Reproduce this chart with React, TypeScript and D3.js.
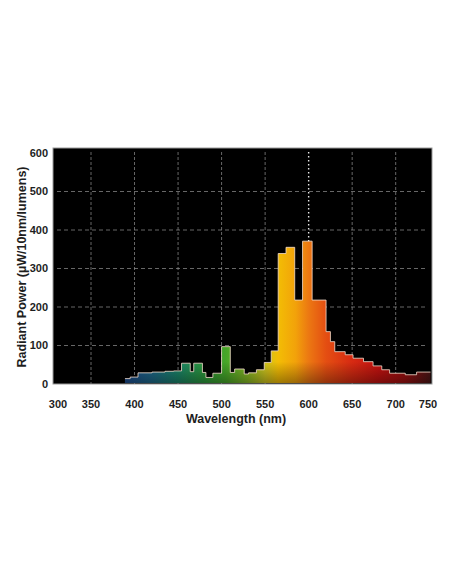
import React from 'react';
import * as d3 from 'd3';

// step starts (nm) and radiant power
const wavelengths = [389, 395, 404, 420, 435, 445, 454, 464, 468, 478, 482, 490, 500, 510, 515, 526, 531, 540, 549, 557, 565, 574, 584, 593, 604, 620, 625, 630, 642, 651, 663, 674, 684, 693, 711, 724];
const power = [14, 18, 29, 31, 33, 34, 54, 32, 54, 30, 17, 28, 97, 30, 39, 26, 29, 37, 56, 86, 339, 355, 218, 371, 218, 136, 110, 84, 76, 67, 58, 47, 37, 28, 24, 31];
const spectrumEnd = 740;

const xTicks = [300, 350, 400, 450, 500, 550, 600, 650, 700, 750];
const yTicks = [0, 100, 200, 300, 400, 500, 600];
const gridX = [350, 400, 450, 500, 550, 650, 700];
const gridY = [100, 200, 300, 400, 500];
const markerLine = 600;

// colour of the light at a given wavelength
const spectrumStops: [number, string][] = [
  [390, '#1d4c8e'],
  [420, '#1e6888'],
  [450, '#1b8468'],
  [480, '#2c983c'],
  [505, '#46a628'],
  [530, '#86b824'],
  [550, '#cdc41e'],
  [565, '#f3bd05'],
  [585, '#f2a20a'],
  [600, '#ec7812'],
  [620, '#e44e12'],
  [650, '#d72a12'],
  [680, '#c21210'],
  [710, '#9c1010'],
  [740, '#4a1616'],
];

const W = 452;
const H = 584;
const plot = { left: 53, right: 432, top: 148, bottom: 384 };

export default function App() {
  const x = d3.scaleLinear().domain([350, 700]).range([91, 395.7]);
  const y = d3.scaleLinear().domain([0, 600]).range([384, 153]);
  // the end labels of the original sit a little inside the plot edges
  const xLabel = d3.scaleLinear().domain([300, 350, 700, 750]).range([58, x(350), x(700), 428]);

  const pts = wavelengths.map((w, i) => ({ w, v: power[i] }));
  pts.push({ w: spectrumEnd, v: power[power.length - 1] });

  const area = d3.area<{ w: number; v: number }>()
    .curve(d3.curveStepAfter)
    .x(d => x(d.w))
    .y0(y(0) - 1)
    .y1(d => y(d.v));
  const line = d3.line<{ w: number; v: number }>()
    .curve(d3.curveStepAfter)
    .x(d => x(d.w))
    .y(d => y(d.v));

  const g0 = x(spectrumStops[0][0]);
  const g1 = x(spectrumStops[spectrumStops.length - 1][0]);

  const font = 'Liberation Sans, Arial, Helvetica, sans-serif';

  return (
    <svg width={W} height={H} style={{ position: 'fixed', left: 0, top: 0, background: '#fff' }}>
      <defs>
        <linearGradient id="spec" gradientUnits="userSpaceOnUse" x1={g0} x2={g1} y1={0} y2={0}>
          {spectrumStops.map(([w, c]) => (
            <stop key={w} offset={(x(w) - g0) / (g1 - g0)} stopColor={c} />
          ))}
        </linearGradient>
        <linearGradient id="shade" x1={0} x2={0} y1={0} y2={1}>
          <stop offset={0.85} stopColor="#000" stopOpacity={0} />
          <stop offset={1} stopColor="#000" stopOpacity={0.35} />
        </linearGradient>
        <clipPath id="plotClip">
          <rect x={plot.left} y={plot.top} width={plot.right - plot.left} height={plot.bottom - plot.top} />
        </clipPath>
      </defs>

      <rect x={plot.left} y={plot.top} width={plot.right - plot.left} height={plot.bottom - plot.top}
        fill="#000" stroke="#9a9a9a" strokeWidth={1} />

      <g clipPath="url(#plotClip)">
        {gridX.map(t => (
          <line key={t} x1={x(t)} x2={x(t)} y1={plot.top + 4} y2={plot.bottom}
            stroke="#8a8a8a" strokeWidth={1} strokeDasharray="3,2" opacity={0.75} />
        ))}
        {gridY.map(t => (
          <line key={t} x1={plot.left + 4} x2={plot.right - 5} y1={y(t)} y2={y(t)}
            stroke="#8a8a8a" strokeWidth={1} strokeDasharray="4,3" opacity={0.75} />
        ))}
        <line x1={x(markerLine)} x2={x(markerLine)} y1={plot.top + 4} y2={plot.bottom}
          stroke="#e8e8e8" strokeWidth={1.4} strokeDasharray="1.5,2.5" />

        <path d={area(pts) ?? ''} fill="url(#spec)" />
        <path d={area(pts) ?? ''} fill="url(#shade)" />
        <path d={line(pts) ?? ''} fill="none" stroke="#f4dccc" strokeWidth={1} opacity={0.8} />
      </g>

      {yTicks.map(t => (
        <text key={t} x={48} y={y(t)} dy="0.35em" textAnchor="end"
          fontFamily={font} fontWeight="bold" fontSize={11} fill="#1e1e1e">{t}</text>
      ))}
      {xTicks.map(t => (
        <text key={t} x={xLabel(t)} y={408} textAnchor="middle"
          fontFamily={font} fontWeight="bold" fontSize={11} fill="#1e1e1e">{t}</text>
      ))}

      <text x={236} y={423} textAnchor="middle" fontFamily={font} fontWeight="bold" fontSize={12.5} fill="#1e1e1e">
        Wavelength (nm)
      </text>
      <text transform={`translate(26, ${(plot.top + plot.bottom) / 2 + 1}) rotate(-90)`} textAnchor="middle"
        fontFamily={font} fontWeight="bold" fontSize={12.5} fill="#1e1e1e">
        Radiant Power (µW/10nm/lumens)
      </text>
    </svg>
  );
}
